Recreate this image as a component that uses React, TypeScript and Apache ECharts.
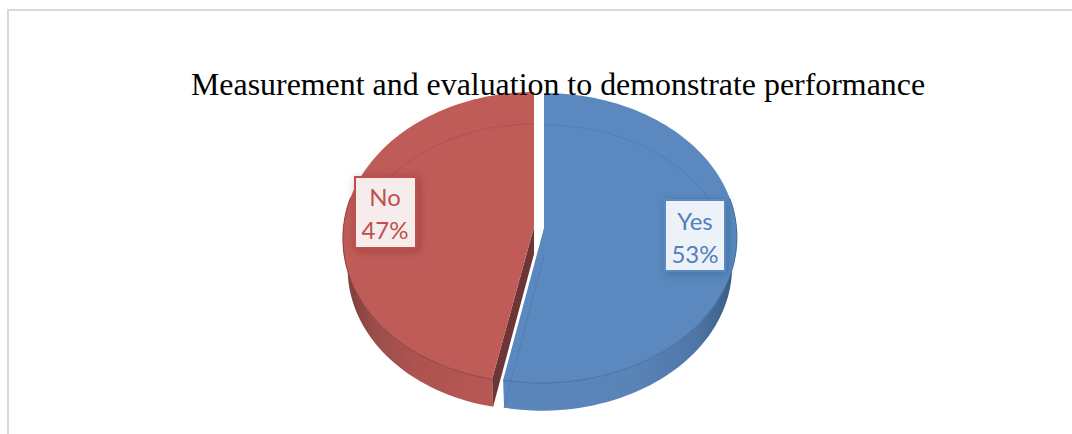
import React, { useEffect, useRef } from "react";
import * as echarts from "echarts";

const titleText = "Measurement and evaluation to demonstrate performance";
const categories = ["Yes", "No"];
const shares = [53, 47];
const labelTexts = ["53%", "47%"];

const S = 144.3;
const K = 0.069;
const LOWER_DROP = 30;
const LOWER_SCALE_X = 0.975;
const LOWER_SCALE_Y = 0.985;

type Pt = [number, number];

const project = (
  cx: number,
  cy: number,
  r: number,
  skew: number,
  deg: number,
  sx = 1,
  sy = 1
): Pt => {
  const t = (deg * Math.PI) / 180;
  const u = Math.sin(t);
  const v = -Math.cos(t);
  const w = 1 - K * v;
  return [cx + (sx * r * u) / w - (skew * (1 + v)) / 2, cy + (sy * S * v) / w];
};

const grad = (stops: [number, string][]) =>
  new echarts.graphic.LinearGradient(
    0,
    0,
    1,
    0,
    stops.map(([offset, color]) => ({ offset, color }))
  );

const looks = [
  {
    cx: 544,
    cy: 228,
    r: 193.5,
    skew: 2,
    top: "#5B89BF",
    edge: "#44719F",
    seen: "#4E7BB0",
    side: grad([
      [0, "#5B86BC"],
      [0.55, "#5A84B8"],
      [0.82, "#4F76A6"],
      [1, "#3A5A82"],
    ]),
    cut: "#3F6288",
    sideFrom: 78,
    sideTo: null as number | null,
    box: { x: 665, y: 200, width: 60, height: 71 },
    boxFill: "#EDF2F8",
    boxStroke: "#5B89BF",
    text: "#4F81BD",
    shadow: "rgba(30,60,110,0.35)",
    tx: 695,
    ty: [220, 253],
  },
  {
    cx: 534,
    cy: 227,
    r: 188.5,
    skew: 4,
    top: "#BF5C58",
    edge: "#8F4341",
    seen: "#AE4F4C",
    side: grad([
      [0, "#7A3B39"],
      [0.2, "#9A4D4B"],
      [0.5, "#AE5350"],
      [1, "#B85855"],
    ]),
    cut: "#6B3635",
    sideFrom: null as number | null,
    sideTo: 282,
    box: { x: 355, y: 177, width: 61, height: 71 },
    boxFill: "#F6ECEC",
    boxStroke: "#C0504D",
    text: "#C0504D",
    shadow: "rgba(90,20,20,0.35)",
    tx: 385,
    ty: [196, 229],
  },
];

const total = shares.reduce((a, b) => a + b, 0);

const renderSlice = (params: any, api: any) => {
  const i = params.dataIndex;
  const look = looks[i];
  const before = shares.slice(0, i).reduce((a, b) => a + b, 0);
  const start = (before / total) * 360;
  const end = start + (api.value(0) / total) * 360;
  const { cx, cy, r, skew } = look;
  const ly = cy + LOWER_DROP;

  const upper = (deg: number) => project(cx, cy, r, skew, deg);
  const lower = (deg: number) =>
    project(cx, ly, r, skew, deg, LOWER_SCALE_X, LOWER_SCALE_Y);
  const sweep = (f: (d: number) => Pt, a: number, b: number): Pt[] => {
    const n = Math.max(2, Math.ceil(Math.abs(b - a) / 2));
    const out: Pt[] = [];
    for (let k = 0; k <= n; k++) out.push(f(a + ((b - a) * k) / n));
    return out;
  };

  const sideA = look.sideFrom ?? start;
  const sideB = look.sideTo ?? end;
  const upperFront = sweep(upper, sideA, sideB);
  const lowerFront = sweep(lower, sideA, sideB);
  const topFace: Pt[] = [[cx, cy], ...sweep(upper, start, end)];

  const seenBack = i === 0 ? sweep(lower, 0, 78) : sweep(lower, 282, 360);
  const seenRadial: Pt[] = [[cx, ly - 3], lower(end)];

  const children: any[] = [
    {
      type: "polygon",
      shape: { points: [...upperFront, ...lowerFront.slice().reverse()] },
      style: { fill: look.side },
    },
  ];
  if (i === 1) {
    children.push({
      type: "polygon",
      shape: { points: [[cx, cy], upper(start), lower(start), [cx, ly - 3]] },
      style: { fill: look.cut },
    });
  }
  children.push(
    { type: "polygon", shape: { points: topFace }, style: { fill: look.top } },
    {
      type: "polyline",
      shape: { points: seenBack },
      style: { stroke: look.seen, fill: "none", lineWidth: 1, opacity: 0.8 },
    },
    {
      type: "polyline",
      shape: { points: i === 0 ? seenRadial : [] },
      style: { stroke: look.seen, fill: "none", lineWidth: 1, opacity: 0.8 },
    },
    {
      type: "polyline",
      shape: { points: upperFront },
      style: { stroke: look.edge, fill: "none", lineWidth: 1 },
    },
    {
      type: "rect",
      shape: look.box,
      style: {
        fill: look.boxFill,
        stroke: look.boxStroke,
        lineWidth: 2,
        shadowBlur: 10,
        shadowOffsetX: 2,
        shadowOffsetY: 2,
        shadowColor: look.shadow,
      },
    },
    {
      type: "text",
      style: {
        x: look.tx,
        y: look.ty[0],
        text: categories[i],
        textAlign: "center",
        textVerticalAlign: "middle",
        fontFamily: "Lato",
        fontSize: 24,
        fill: look.text,
      },
    },
    {
      type: "text",
      style: {
        x: look.tx,
        y: look.ty[1],
        text: labelTexts[i],
        textAlign: "center",
        textVerticalAlign: "middle",
        fontFamily: "Lato",
        fontSize: 24,
        fill: look.text,
      },
    }
  );
  return { type: "group", children };
};

export default function App() {
  const ref = useRef<HTMLDivElement>(null);
  useEffect(() => {
    document.body.style.margin = "0";
    const chart = echarts.init(ref.current!, undefined, { renderer: "svg" });
    chart.setOption({
      animation: false,
      backgroundColor: "#ffffff",
      title: {
        text: titleText,
        left: 186,
        top: 63,
        textStyle: {
          fontFamily: "Liberation Serif",
          fontSize: 31.9,
          fontWeight: "normal",
          color: "#000000",
        },
      },
      graphic: [
        {
          type: "polyline",
          silent: true,
          shape: {
            points: [
              [8, 434],
              [8, 10],
              [1072, 10],
            ],
          },
          style: { stroke: "#D9D9D9", fill: "none", lineWidth: 2 },
        },
      ],
      series: [
        {
          type: "custom",
          coordinateSystem: "none",
          silent: true,
          renderItem: renderSlice,
          data: categories.map((name, i) => ({ name, value: shares[i] })),
        },
      ],
    });
    return () => chart.dispose();
  }, []);
  return <div ref={ref} style={{ width: 1072, height: 434 }} />;
}
